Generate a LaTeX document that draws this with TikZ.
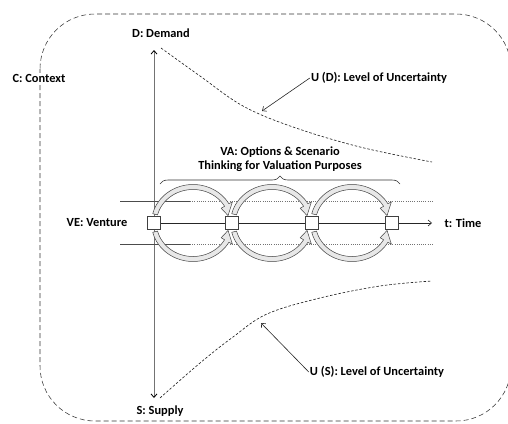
\documentclass[tikz,border=0pt]{standalone}
\usepackage{fontspec}
\setmainfont{Carlito}
\usetikzlibrary{arrows.meta,decorations.pathreplacing,calc}
\begin{document}
\begin{tikzpicture}[x=1pt,y=-1pt,
  lbl/.style={font=\bfseries\fontsize{12.4}{14}\selectfont, inner sep=1pt},
  frame/.style={draw=black!80, line width=0.55pt, dash pattern=on 5pt off 3pt},
  unc/.style={draw=black!85, line width=0.65pt, dash pattern=on 2.5pt off 1.8pt},
  axis/.style={draw=black!55, line width=0.8pt, {Straight Barb[length=3.5pt,width=6pt,color=black]}-{Straight Barb[length=3.5pt,width=6pt,color=black]}},
  tax/.style={draw=black!85, line width=0.6pt, -{Straight Barb[length=3.5pt,width=6pt]}},
  ann/.style={draw=black!85, line width=0.6pt, -{Straight Barb[length=3.5pt,width=6pt]}},
  hsolid/.style={draw=black!70, line width=0.6pt},
  hdot/.style={draw=black!55, line width=0.6pt, dash pattern=on 1pt off 1.2pt},
  box/.style={draw=black!75, fill=white, line width=0.5pt, minimum size=13pt, inner sep=0pt},
  loopst/.style={fill=gray!18, draw=black!75, line width=0.5pt, line join=round},
  brc/.style={draw=black!80, line width=0.6pt, decorate, decoration={brace, amplitude=8pt}}
]
\useasboundingbox (0,0) rectangle (508,423);

% context frame
\draw[frame, rounded corners=55pt] (40,14) rectangle (511,421);

% labels
\node[lbl, fill=white] (ctx) at (39,78) {C: Context};
\node[lbl] (dem) at (161,33) {D: Demand};
\node[lbl] (sup) at (160,411) {S: Supply};
\node[lbl] (ven) at (97,223) {VE: Venture};
\node[lbl] (tim) at (463,223) {t: Time};
\node[lbl] (ud) at (379,78) {U (D): Level of Uncertainty};
\node[lbl] (us) at (377,372) {U (S): Level of Uncertainty};
\node[lbl, align=center] (va) at (280,159) {VA: Options \& Scenario\\Thinking for Valuation Purposes};

% uncertainty curves
\draw[unc] plot[smooth, tension=0.6] coordinates {(161,48) (200,76) (243,106) (293,127) (360,147) (432,162)};
\draw[unc] plot[smooth, tension=0.6] coordinates {(160,398) (200,363) (233,337) (267,314) (320,298) (380,286) (432,281)};

% vertical axis
\coordinate (vt) at (154,50);
\coordinate (vb) at (154,398);
\draw[axis] (vb) -- (vt);

% horizontal guide lines
\coordinate (ua) at (120,201); \coordinate (ub) at (190,201); \coordinate (uc) at (433,201);
\coordinate (la) at (120,244); \coordinate (lb) at (190,244); \coordinate (lc) at (433,244);
\draw[hsolid] (ua) -- (ub);
\draw[hdot] (ub) -- (uc);
\draw[hsolid] (la) -- (lb);
\draw[hdot] (lb) -- (lc);

% box positions and time axis
\coordinate (p0) at (154,223);
\coordinate (p1) at (232,223);
\coordinate (p2) at (312,223);
\coordinate (p3) at (392,223);
\coordinate (tt) at (432,223);
\draw[tax] (p0) -- (tt);

% loops
\foreach \cx in {193,272,352}{
  \begin{scope}[shift={(\cx,223)}]
    \draw[loopst] plot[domain=166:30,samples=40] (\x:41.5pt and 38.5pt) -- (30:45.5pt and 42.5pt) -- (13:36pt and 33pt) -- (30:32.5pt and 29.5pt) -- plot[domain=30:166,samples=40] (\x:36.5pt and 33.5pt) -- cycle;
    \draw[loopst] plot[domain=-166:-30,samples=40] (\x:41.5pt and 38.5pt) -- (-30:45.5pt and 42.5pt) -- (-13:36pt and 33pt) -- (-30:32.5pt and 29.5pt) -- plot[domain=-30:-166,samples=40] (\x:36.5pt and 33.5pt) -- cycle;
  \end{scope}
}

\node[box] (b0) at (p0) {};
\node[box] (b1) at (p1) {};
\node[box] (b2) at (p2) {};
\node[box] (b3) at (p3) {};

% brace
\coordinate (bra) at (160,184);
\coordinate (brb) at (400,184);
\draw[brc] (bra) -- (brb);

% annotation arrows
\coordinate (udt) at (262,111);
\coordinate (ust) at (261,323);
\draw[ann] (ud.west) -- (udt);
\draw[ann] (us.west) -- (ust);
\end{tikzpicture}
\end{document}
